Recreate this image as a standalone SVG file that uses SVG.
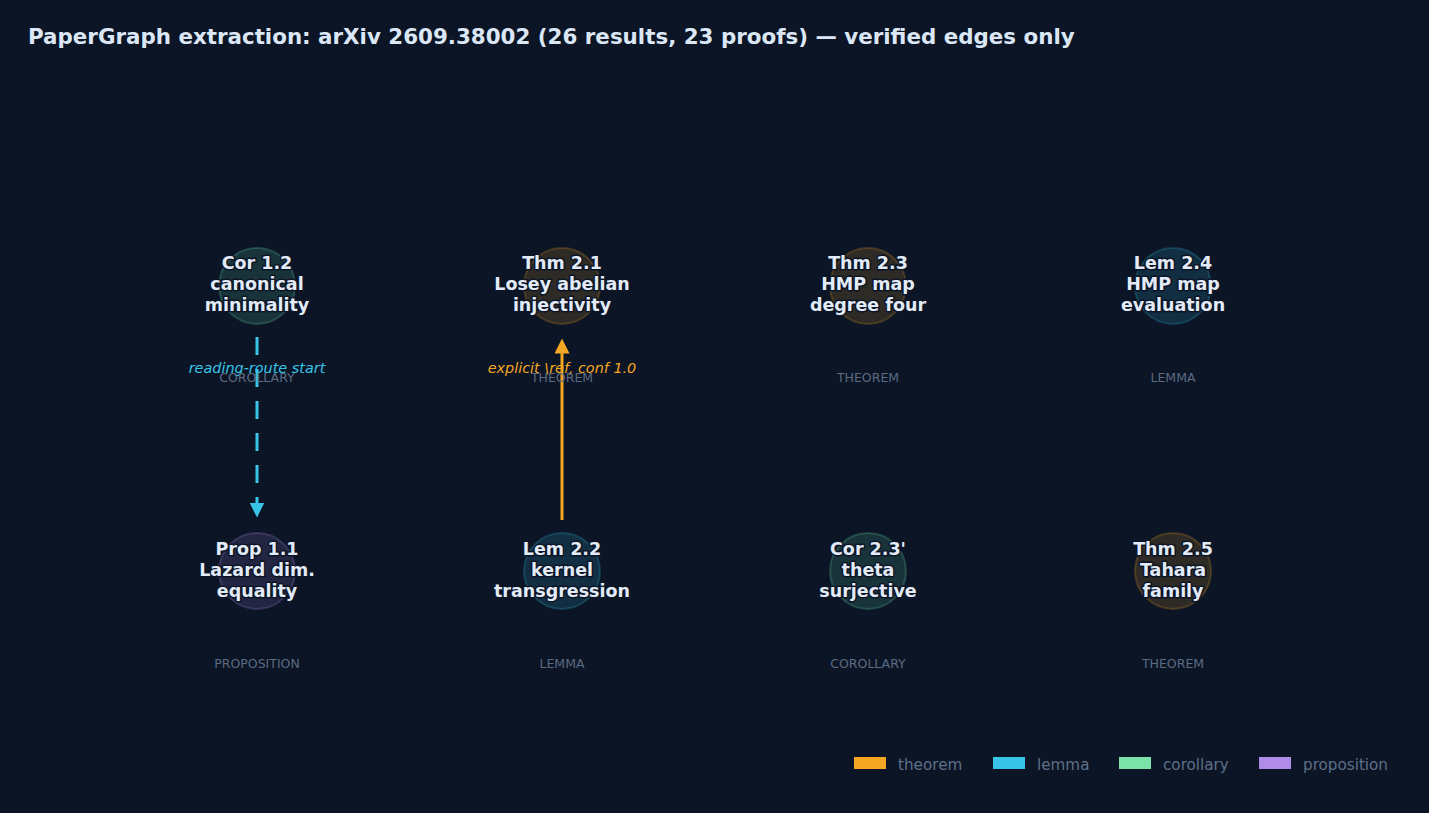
<svg xmlns="http://www.w3.org/2000/svg" width="1429" height="813" viewBox="0 0 1429 813">
<defs>
<marker id="arrCyan" viewBox="0 0 10 10" refX="5" refY="5" markerWidth="5" markerHeight="5" orient="auto" markerUnits="strokeWidth"><path d="M0,0 L10,5 L0,10 z" fill="#38c4e6"/></marker>
<marker id="arrOrange" viewBox="0 0 10 10" refX="5" refY="5" markerWidth="5" markerHeight="5" orient="auto" markerUnits="strokeWidth"><path d="M0,0 L10,5 L0,10 z" fill="#f5a623"/></marker>
</defs>
<style>
.title{font-family:"DejaVu Sans",sans-serif;font-weight:bold;font-size:21.4px;fill:#dce7f5}
.nl{font-family:"DejaVu Sans",sans-serif;font-weight:bold;font-size:17.5px;fill:#e2ebf7;text-anchor:middle;stroke:#0b1526;stroke-width:3px;paint-order:stroke;stroke-linejoin:round}
.ty{font-family:"DejaVu Sans",sans-serif;font-size:12.5px;fill:#5b6b82;text-anchor:middle}
.c{stroke-width:2;fill-opacity:0.15;stroke-opacity:0.22}
.thm{fill:#f5a623;stroke:#f5a623}
.lem{fill:#38c4e6;stroke:#38c4e6}
.cor{fill:#6ee7b7;stroke:#6ee7b7}
.prop{fill:#b18be8;stroke:#b18be8}
.el{font-family:"DejaVu Sans",sans-serif;font-style:italic;font-size:14.4px;text-anchor:middle}
.lg{font-family:"DejaVu Sans",sans-serif;font-size:15.2px;fill:#5f6f86}
</style>
<rect width="1429" height="813" fill="#0b1526"/>
<text class="title" x="28" y="44">PaperGraph extraction: arXiv 2609.38002 (26 results, 23 proofs) — verified edges only</text>

<g id="connectors">
<line x1="257" y1="337" x2="257" y2="510" stroke="#38c4e6" stroke-width="3" stroke-dasharray="18,14" marker-end="url(#arrCyan)"/>
<text class="el" x="257" y="373" fill="#38c4e6">reading-route start</text>
<line x1="562" y1="520" x2="562" y2="346" stroke="#f5a623" stroke-width="3" marker-end="url(#arrOrange)"/>
<text class="el" x="562" y="373" fill="#f5a623">explicit \ref, conf 1.0</text>
</g>

<g id="cor12">
<circle class="c cor" cx="257" cy="286" r="38"/>
<text class="nl" x="257" y="269">Cor 1.2</text>
<text class="nl" x="257" y="290">canonical</text>
<text class="nl" x="257" y="311">minimality</text>
<text class="ty" x="257" y="382">COROLLARY</text>
</g>
<g id="thm21">
<circle class="c thm" cx="562" cy="286" r="38"/>
<text class="nl" x="562" y="269">Thm 2.1</text>
<text class="nl" x="562" y="290">Losey abelian</text>
<text class="nl" x="562" y="311">injectivity</text>
<text class="ty" x="562" y="382">THEOREM</text>
</g>
<g id="thm23">
<circle class="c thm" cx="868" cy="286" r="38"/>
<text class="nl" x="868" y="269">Thm 2.3</text>
<text class="nl" x="868" y="290">HMP map</text>
<text class="nl" x="868" y="311">degree four</text>
<text class="ty" x="868" y="382">THEOREM</text>
</g>
<g id="lem24">
<circle class="c lem" cx="1173" cy="286" r="38"/>
<text class="nl" x="1173" y="269">Lem 2.4</text>
<text class="nl" x="1173" y="290">HMP map</text>
<text class="nl" x="1173" y="311">evaluation</text>
<text class="ty" x="1173" y="382">LEMMA</text>
</g>
<g id="prop11">
<circle class="c prop" cx="257" cy="571" r="38"/>
<text class="nl" x="257" y="555">Prop 1.1</text>
<text class="nl" x="257" y="576">Lazard dim.</text>
<text class="nl" x="257" y="597">equality</text>
<text class="ty" x="257" y="668">PROPOSITION</text>
</g>
<g id="lem22">
<circle class="c lem" cx="562" cy="571" r="38"/>
<text class="nl" x="562" y="555">Lem 2.2</text>
<text class="nl" x="562" y="576">kernel</text>
<text class="nl" x="562" y="597">transgression</text>
<text class="ty" x="562" y="668">LEMMA</text>
</g>
<g id="cor23p">
<circle class="c cor" cx="868" cy="571" r="38"/>
<text class="nl" x="868" y="555">Cor 2.3'</text>
<text class="nl" x="868" y="576">theta</text>
<text class="nl" x="868" y="597">surjective</text>
<text class="ty" x="868" y="668">COROLLARY</text>
</g>
<g id="thm25">
<circle class="c thm" cx="1173" cy="571" r="38"/>
<text class="nl" x="1173" y="555">Thm 2.5</text>
<text class="nl" x="1173" y="576">Tahara</text>
<text class="nl" x="1173" y="597">family</text>
<text class="ty" x="1173" y="668">THEOREM</text>
</g>

<g id="legend">
<rect x="854" y="757" width="32" height="12" fill="#f5a623"/>
<text class="lg" x="898" y="770">theorem</text>
<rect x="993" y="757" width="32" height="12" fill="#38c4e6"/>
<text class="lg" x="1037" y="770">lemma</text>
<rect x="1119" y="757" width="32" height="12" fill="#7be3aa"/>
<text class="lg" x="1163" y="770">corollary</text>
<rect x="1259" y="757" width="32" height="12" fill="#b18be8"/>
<text class="lg" x="1303" y="770">proposition</text>
</g>
</svg>
